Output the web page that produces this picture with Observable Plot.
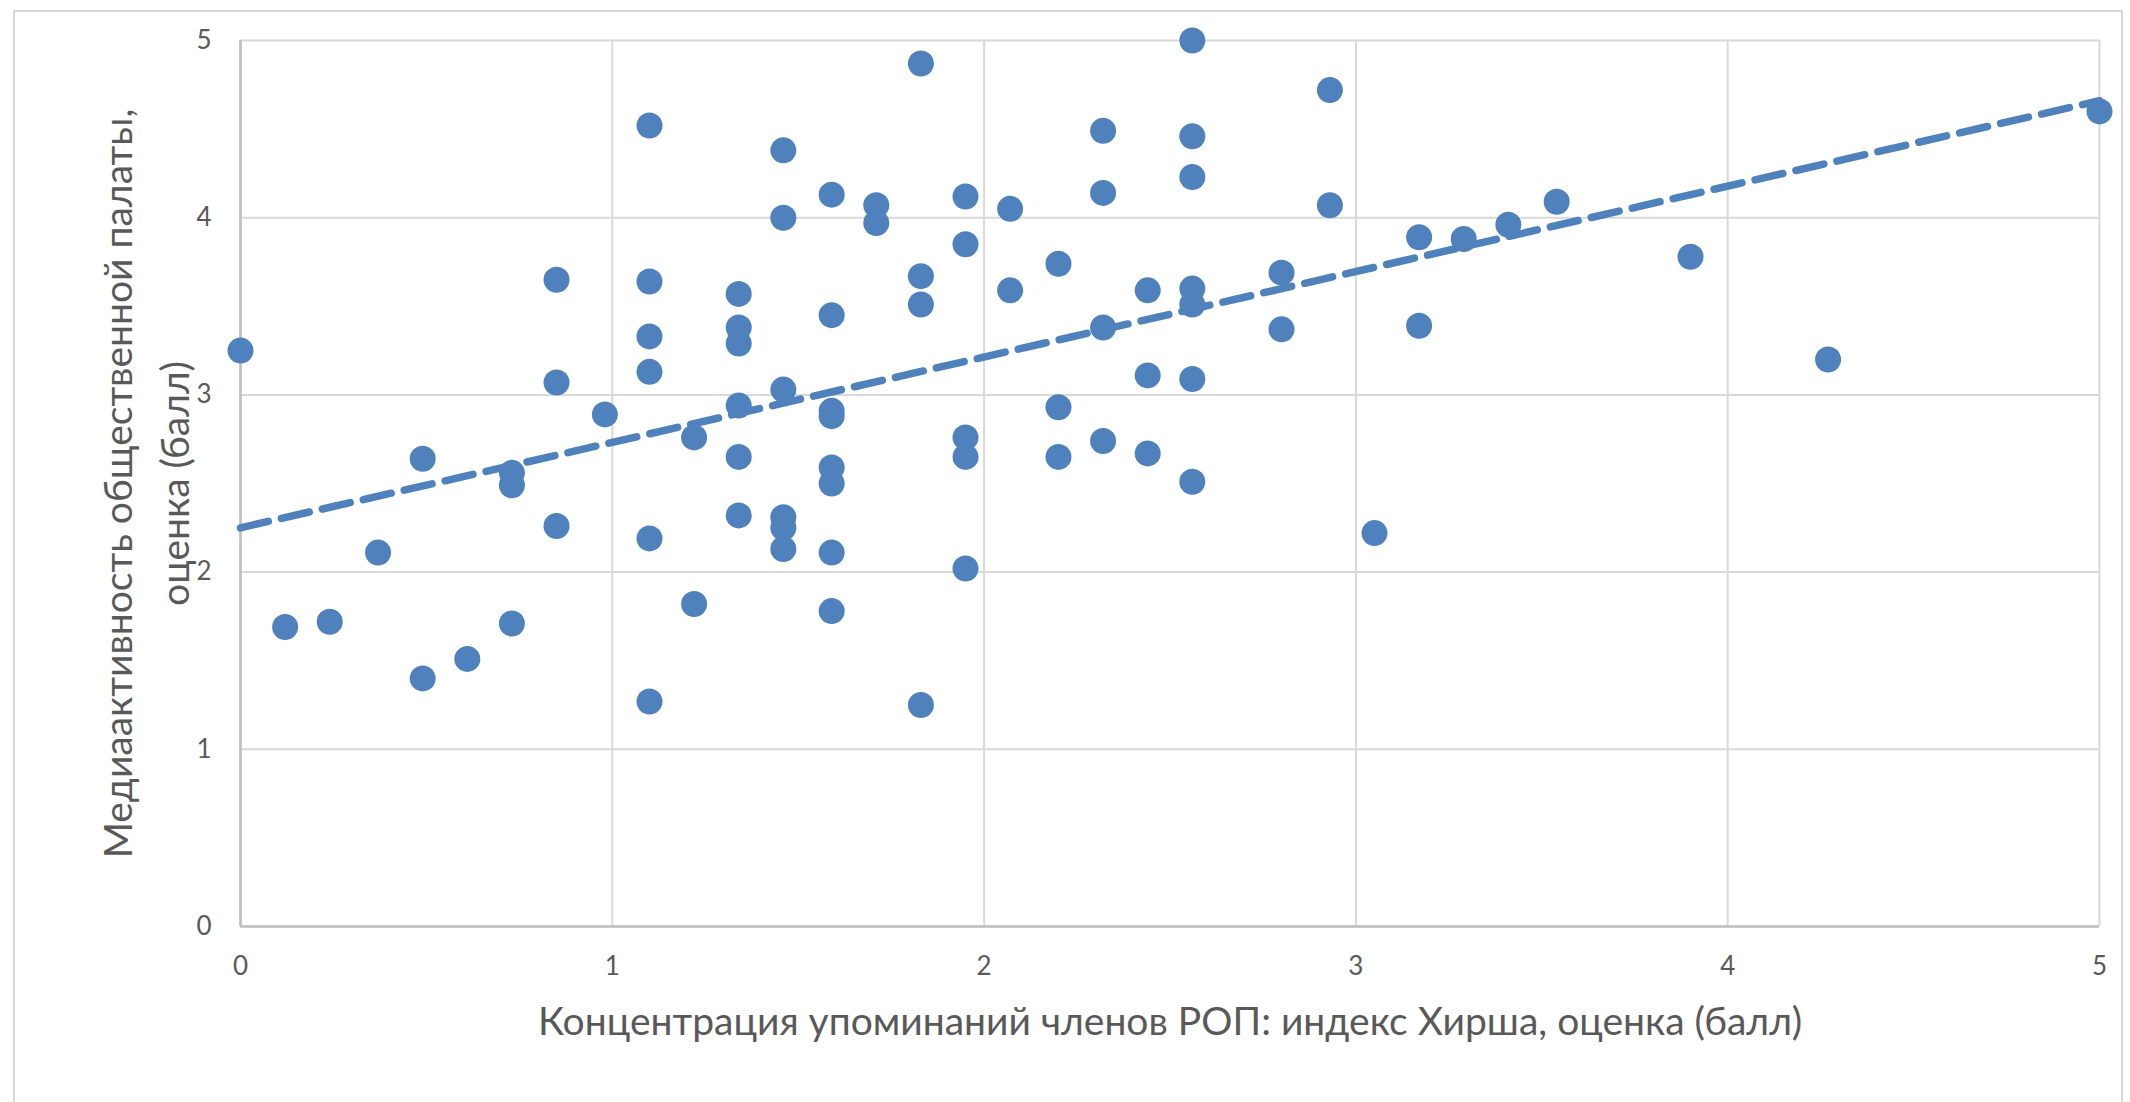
<!DOCTYPE html>
<html><head><meta charset="utf-8">
<script src="https://cdn.jsdelivr.net/npm/d3@7"></script>
<script src="https://cdn.jsdelivr.net/npm/@observablehq/plot@0.6"></script>
<style>
html,body{margin:0;padding:0;background:#fff;overflow:hidden;}
#frame{position:absolute;left:13px;top:10px;width:2110px;height:1110px;border:2px solid #d9d9d9;box-sizing:border-box;}
#chart{position:absolute;left:0;top:0;}
</style></head><body><div id="frame"></div><div id="chart"></div>
<script>
// Hirsch index score (x) and media activity score (y) for each chamber
const hirsch = [
  0.00,
  0.12, 0.24, 0.37,
  0.49, 0.49,
  0.61,
  0.73, 0.73, 0.73,
  0.85, 0.85, 0.85,
  0.98,
  1.10, 1.10, 1.10, 1.10, 1.10, 1.10,
  1.22, 1.22,
  1.34, 1.34, 1.34, 1.34, 1.34, 1.34,
  1.46, 1.46, 1.46, 1.46, 1.46, 1.46,
  1.59, 1.59, 1.59, 1.59, 1.59, 1.59, 1.59, 1.59,
  1.71, 1.71,
  1.83, 1.83, 1.83, 1.83,
  1.95, 1.95, 1.95, 1.95, 1.95,
  2.07, 2.07,
  2.20, 2.20, 2.20,
  2.32, 2.32, 2.32, 2.32,
  2.44, 2.44, 2.44,
  2.56, 2.56, 2.56, 2.56, 2.56, 2.56, 2.56,
  2.80, 2.80,
  2.93, 2.93,
  3.05,
  3.17, 3.17,
  3.29, 3.41, 3.54,
  3.90, 4.27, 5.00
];
const media = [
  3.25,
  1.69, 1.72, 2.11,
  1.40, 2.64,
  1.51,
  1.71, 2.49, 2.56,
  3.65, 3.07, 2.26,
  2.89,
  4.52, 3.64, 3.33, 3.13, 2.19, 1.27,
  2.76, 1.82,
  3.57, 3.38, 3.29, 2.94, 2.65, 2.32,
  4.38, 4.00, 3.03, 2.31, 2.25, 2.13,
  4.13, 3.45, 2.91, 2.88, 2.59, 2.50, 2.11, 1.78,
  4.07, 3.97,
  4.87, 3.67, 3.51, 1.25,
  4.12, 3.85, 2.76, 2.65, 2.02,
  4.05, 3.59,
  3.74, 2.93, 2.65,
  4.49, 4.14, 3.38, 2.74,
  3.59, 3.11, 2.67,
  5.00, 4.46, 4.23, 3.60, 3.51, 3.09, 2.51,
  3.69, 3.37,
  4.72, 4.07,
  2.22,
  3.89, 3.39,
  3.88, 3.96, 4.09,
  3.78, 3.20, 4.60
];
// linear trend line end points
const trendX = [0, 5];
const trendY = [2.25, 4.66];
const xTicks = [0, 1, 2, 3, 4, 5];
const yTicks = [0, 1, 2, 3, 4, 5];
const xTitle = "Концентрация упоминаний членов РОП: индекс Хирша, оценка (балл)";
const yTitle = "Медиаактивность общественной палаты,\nоценка (балл)";

const points = hirsch.map((x, i) => ({x, y: media[i]}));
const trend = trendX.map((x, i) => ({x, y: trendY[i]}));

const blue = "#4f81bd";
const fmt = d3.format("d");
const chart = Plot.plot({
  width: 2130,
  height: 1102,
  marginLeft: 240,
  marginRight: 31,
  marginTop: 40,
  marginBottom: 176,
  style: {fontFamily: "Lato, 'Open Sans', sans-serif", fontSize: "26px", color: "#595959", background: "transparent", overflow: "visible"},
  x: {domain: [0, 5]},
  y: {domain: [0, 5]},
  marks: [
    Plot.gridX(xTicks, {stroke: "#d9d9d9", strokeOpacity: 1, strokeWidth: 2}),
    Plot.gridY(yTicks, {stroke: "#d9d9d9", strokeOpacity: 1, strokeWidth: 2}),
    Plot.ruleY([0], {stroke: "#bfbfbf", strokeWidth: 2.5}),
    Plot.ruleX([0], {stroke: "#bfbfbf", strokeWidth: 2.5}),
    Plot.axisX(xTicks, {tickSize: 0, tickPadding: 30, fontSize: 26, label: null, tickFormat: fmt}),
    Plot.axisY(yTicks, {tickSize: 0, tickPadding: 29, fontSize: 26, label: null, tickFormat: fmt}),
    Plot.dot(points, {x: "x", y: "y", r: 13, fill: blue, stroke: null}),
    Plot.line(trend, {x: "x", y: "y", stroke: blue, strokeWidth: 7.5, strokeDasharray: "28.5,13.5", strokeLinecap: "round"}),
    Plot.text([xTitle], {frameAnchor: "bottom", dy: 96, fontSize: 39, lineAnchor: "middle", textAnchor: "middle", fill: "#595959"}),
    Plot.text([yTitle], {frameAnchor: "left", dx: -98, rotate: -90, fontSize: 39, lineAnchor: "middle", textAnchor: "middle", lineHeight: 1.45, fill: "#595959"})
  ]
});
document.getElementById("chart").appendChild(chart);
</script>
</body></html>
